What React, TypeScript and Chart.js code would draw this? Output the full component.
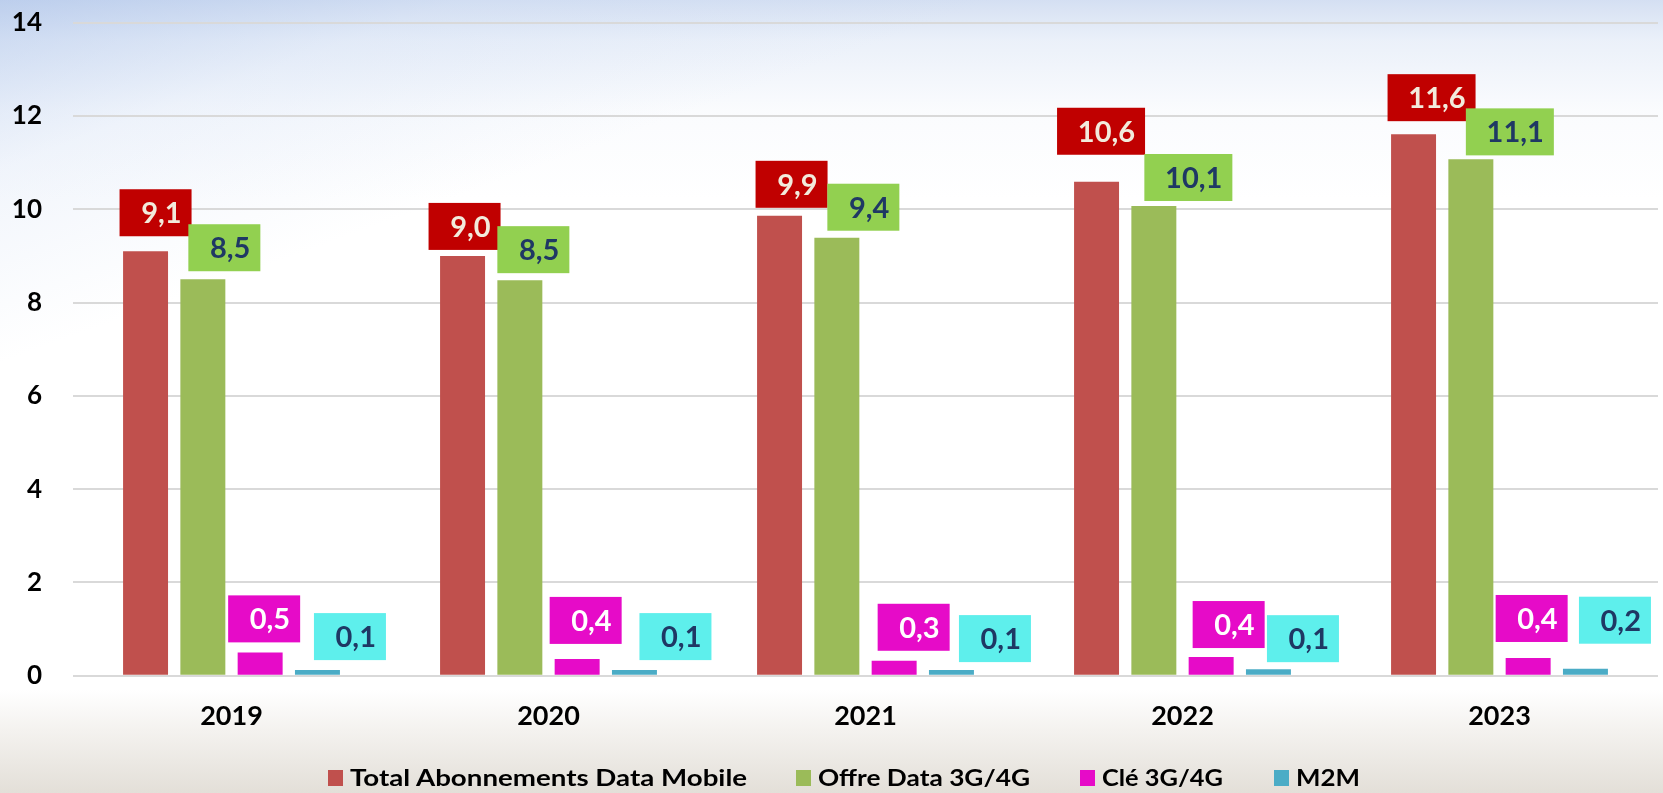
import React, { useEffect, useRef } from "react";
import { Chart, registerables } from "chart.js";

Chart.register(...registerables);

const categories = ["2019", "2020", "2021", "2022", "2023"];
const seriesNames = ["Total Abonnements Data Mobile", "Offre Data 3G/4G", "Clé 3G/4G", "M2M"];
const totalData = [9.1, 9.0, 9.86, 10.59, 11.61];
const offreData = [8.5, 8.48, 9.39, 10.07, 11.07];
const cleData = [0.5, 0.36, 0.32, 0.4, 0.38];
const m2mData = [0.12, 0.12, 0.12, 0.14, 0.15];
const yMin = 0;
const yMax = 14;
const yStep = 2;

// styles
const barColors = ["#c0504d", "#9bbb59", "#e60bc8", "#4bacc6"];
const labelBg = ["#c00000", "#92d050", "#e60bc8", "#5eefec"];
const labelFg = ["#f2ebdc", "#1f3864", "#ffffff", "#1f3864"];
// manual label nudges relative to bar top: [dx from bar centre, gap above bar top]
const labelNudges = [
  [[10, 15], [2, 6], [12, 8], [4.5, 27], [18, 13]],
  [[21.5, 8], [13.5, 7], [26.5, 7], [34.5, 5], [39, 4]],
  [[4, 10], [8.5, 15], [19.5, 10], [17.5, 9], [3.5, 16]],
  [[32.5, 10], [41, 10], [43.5, 8], [34.5, 7], [29.5, 25]],
];
// legend layout: marker left x and text width
const legendLeft = [328, 796, 1080, 1274];
const legendTextWidth = [398, 212, 121, 64];
const legendFont = "bold 22px Lato";

const fmt = (v: number) => (Math.round(v * 10 + 1e-6) / 10).toFixed(1).replace(".", ",");

let measureCtx: CanvasRenderingContext2D | null = null;
const textScale = (text: string, target: number) => {
  if (!measureCtx) measureCtx = document.createElement("canvas").getContext("2d");
  if (!measureCtx) return 1;
  measureCtx.font = legendFont;
  const w = measureCtx.measureText(text).width;
  return w > 0 ? target / w : 1;
};

const boxLabels = {
  id: "boxLabels",
  afterDatasetsDraw(chart: any) {
    const ctx = chart.ctx;
    ctx.save();
    chart.data.datasets.forEach((ds: any, i: number) => {
      const meta = chart.getDatasetMeta(i);
      meta.data.forEach((bar: any, j: number) => {
        const text = fmt(ds.data[j]);
        const w = 16 * text.length + 24;
        const h = 47;
        const [dx, gap] = labelNudges[i][j];
        const cx = bar.x + dx;
        const bottom = bar.y - gap;
        const left = cx - w / 2;
        const top = bottom - h;
        ctx.fillStyle = labelBg[i];
        ctx.fillRect(left, top, w, h);
        ctx.font = "bold 29px Lato";
        ctx.fillStyle = labelFg[i];
        ctx.textAlign = "right";
        ctx.textBaseline = "alphabetic";
        ctx.fillText(text, left + w - 10, top + h / 2 + 10.5);
      });
    });
    ctx.restore();
  },
};

export default function App() {
  const canvasRef = useRef<HTMLCanvasElement | null>(null);

  useEffect(() => {
    if (!canvasRef.current) return;
    const allData = [totalData, offreData, cleData, m2mData];
    const chart = new Chart(canvasRef.current, {
      type: "bar",
      data: {
        labels: categories,
        datasets: allData.map((d, i) => ({
          label: seriesNames[i],
          data: d,
          backgroundColor: barColors[i],
          borderWidth: 0,
          categoryPercentage: 0.723,
          barPercentage: 0.785,
        })),
      },
      options: {
        animation: false,
        responsive: true,
        maintainAspectRatio: false,
        layout: { padding: { top: 22.7, right: 5, left: 0, bottom: 0 } },
        plugins: {
          legend: { display: false },
          tooltip: { enabled: false },
        },
        scales: {
          x: {
            grid: { display: false, drawTicks: false },
            border: { display: false },
            ticks: { font: { family: "Lato", weight: "bold", size: 27 }, color: "#000", padding: 24 },
            afterFit: (s: any) => {
              s.height = 117.3;
              s.paddingLeft = 0;
              s.paddingRight = 0;
            },
          },
          y: {
            min: yMin,
            max: yMax,
            ticks: { stepSize: yStep, font: { family: "Lato", weight: "bold", size: 26 }, color: "#000", padding: 31 },
            grid: { color: "#d9d9d9", lineWidth: 2, drawTicks: false },
            border: { display: false },
            afterFit: (s: any) => {
              s.width = 73;
              s.paddingTop = 0;
              s.paddingBottom = 0;
            },
          },
        },
      },
      plugins: [boxLabels],
    } as any);
    return () => chart.destroy();
  }, []);

  return (
    <div
      style={{
        position: "absolute",
        left: 0,
        top: 0,
        width: 1663,
        height: 793,
        overflow: "hidden",
        background:
          "linear-gradient(160deg, rgba(160,186,230,0.45) 0%, rgba(200,216,242,0.25) 12%, rgba(255,255,255,0) 26%), linear-gradient(to bottom, rgba(205,218,240,0.85) 0px, rgba(226,234,247,0.7) 40px, rgba(244,247,252,0.45) 110px, rgba(255,255,255,0) 200px), linear-gradient(to bottom, #ffffff 0px, #ffffff 690px, #f4f2ef 730px, #e3dfd8 793px)",
      }}
    >
      <canvas ref={canvasRef} style={{ position: "absolute", left: 0, top: 0, width: 1663, height: 793 }} />
      {seriesNames.map((name, i) => (
        <div key={name}>
          <div
            style={{
              position: "absolute",
              left: legendLeft[i],
              top: 770,
              width: 15,
              height: 16,
              background: barColors[i],
            }}
          />
          <span
            style={{
              position: "absolute",
              left: legendLeft[i] + 22,
              top: 766.5,
              font: legendFont,
              lineHeight: "22px",
              whiteSpace: "nowrap",
              color: "#000",
              transform: `scaleX(${textScale(name, legendTextWidth[i])})`,
              transformOrigin: "left top",
            }}
          >
            {name}
          </span>
        </div>
      ))}
    </div>
  );
}
